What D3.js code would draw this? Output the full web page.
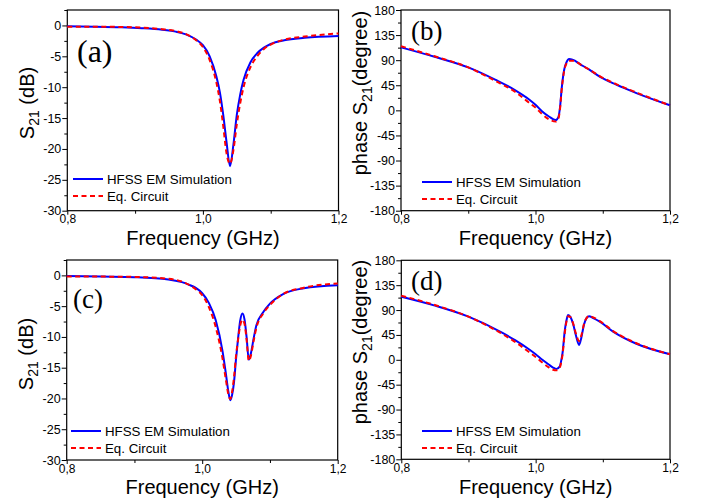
<!DOCTYPE html>
<html><head><meta charset="utf-8">
<script src="https://cdn.jsdelivr.net/npm/d3@7"></script>
<style>body{margin:0;background:#fff}svg{display:block}</style>
</head><body><svg id="c" width="706" height="504"></svg>
<script>
// ---------- data ----------
const freqA = [0.80,0.84,0.88,0.91,0.94,0.96,0.975,0.99,1.00,1.01,1.02,1.025,1.03,1.035,1.04,1.045,1.05,1.055,1.06,1.07,1.08,1.09,1.10,1.12,1.15,1.20];
const hfssA = [-0.15,-0.2,-0.3,-0.45,-0.7,-1.0,-1.45,-2.3,-3.2,-5.0,-8.3,-10.8,-14.5,-19.0,-22.8,-19.3,-14.5,-11.2,-8.8,-6.0,-4.5,-3.6,-3.0,-2.4,-2.0,-1.7];
const eqA   = [-0.2,-0.2,-0.25,-0.35,-0.6,-0.9,-1.4,-2.4,-3.5,-5.6,-9.3,-12.2,-16.3,-20.8,-22.4,-20.2,-16.0,-12.6,-10.0,-6.8,-5.0,-3.8,-3.1,-2.3,-1.8,-1.3];

const freqB = [0.80,0.85,0.90,0.94,0.97,0.99,1.00,1.01,1.02,1.03,1.034,1.0365,1.039,1.0425,1.046,1.05,1.055,1.06,1.07,1.08,1.096,1.12,1.15,1.20];
const hfssB = [113,96,77,55,36,20,10,-2,-11,-17.5,-12,6,40,72,86,92,91,88,80,73,60,46,31,9];
const eqB   = [115,97,77,53,33,14,5,-7,-16,-20,-15,3,38,70,84,89,89,87,80,73,61,47,32,9];

const freqC = [0.80,0.85,0.90,0.95,0.97,0.98,0.99,1.00,1.01,1.02,1.03,1.035,1.0385,1.0415,1.044,1.047,1.05,1.053,1.056,1.0595,1.0625,1.0655,1.0688,1.072,1.076,1.08,1.09,1.10,1.12,1.15,1.20];
const hfssC = [-0.1,-0.2,-0.3,-0.65,-1.1,-1.5,-2.0,-2.9,-4.5,-7.3,-12.3,-16.0,-18.8,-20.3,-19.5,-17.3,-13.5,-10.2,-7.4,-6.2,-7.2,-10.0,-13.7,-12.6,-10.2,-8.1,-6.0,-4.6,-3.0,-2.1,-1.6];
const eqC   = [-0.2,-0.2,-0.25,-0.55,-1.0,-1.5,-2.2,-3.2,-5.2,-8.4,-13.5,-17.0,-19.3,-20.1,-19.0,-16.5,-13.0,-10.4,-8.2,-7.2,-7.9,-10.4,-13.9,-13.0,-10.6,-8.5,-6.2,-4.8,-3.0,-2.0,-1.3];

const freqD = [0.80,0.85,0.90,0.95,0.97,0.99,1.00,1.01,1.02,1.026,1.031,1.036,1.038,1.040,1.0435,1.046,1.0483,1.052,1.056,1.060,1.0647,1.068,1.072,1.076,1.0796,1.085,1.0955,1.1153,1.15,1.20];
const hfssD = [114,98,78,49,35,19,10,0,-9,-14,-16.5,-12,-2,12,54,72,81,77,64,44,27,40,64,76,79,76,69,51,29,10];
const eqD   = [116,99,78,47,32,14,5,-5,-14,-18,-19,-14,-5,9,50,70,79,77,65,47,34,44,65,76,79,77,70,52,30,10];

const xTicks = [0.8, 1.0, 1.2];
const dbTicks = [0,-5,-10,-15,-20,-25,-30];
const phTicks = [180,135,90,45,0,-45,-90,-135,-180];
const seriesNames = ["HFSS EM Simulation","Eq. Circuit"];
const panelLabels = ["(a)","(b)","(c)","(d)"];

// ---------- drawing ----------
const svg = d3.select("#c");
const SANS = "'Liberation Sans', Arial, sans-serif";
const SERIF = "'Liberation Serif', 'Times New Roman', serif";
const BLUE = "#0000ff", RED = "#ff0000";

const panels = [
  {f:freqA, a:hfssA, b:eqA, box:[67.3,338.5,10,210.7], yDom:[-30,2.5], yTicks:dbTicks, yMinor:d3.range(-30,2.6,2.5), title:"dB",
   lab:[77,62,32], ytitle:[34,103], leg:[73,179], xtitle:245},
  {f:freqB, a:hfssB, b:eqB, box:[401,670,10,210.7], yDom:[-180,180], yTicks:phTicks, yMinor:d3.range(-180,181,22.5), title:"ph",
   lab:[411,40,27], ytitle:[367,93], leg:[422,182], xtitle:245},
  {f:freqC, a:hfssC, b:eqC, box:[66.7,337.7,260,460], yDom:[-30,2.5], yTicks:dbTicks, yMinor:d3.range(-30,2.6,2.5), title:"dB",
   lab:[73,308,27], ytitle:[33,354], leg:[71,431], xtitle:494},
  {f:freqD, a:hfssD, b:eqD, box:[401.3,670,260.3,459.3], yDom:[-180,180], yTicks:phTicks, yMinor:d3.range(-180,181,22.5), title:"ph",
   lab:[411,290,27], ytitle:[367,342], leg:[422,431], xtitle:494}
];

panels.forEach((p,i) => {
  const [x0,x1,y0,y1] = p.box;
  const x = d3.scaleLinear().domain([0.8,1.2]).range([x0,x1]);
  const y = d3.scaleLinear().domain(p.yDom).range([y1,y0]);
  const g = svg.append("g");

  // minor ticks
  g.append("g").attr("transform",`translate(0,${y1})`)
    .call(d3.axisBottom(x).tickValues([0.9,1.1]).tickSize(3).tickFormat(""))
    .call(a=>a.select(".domain").remove());
  g.append("g").attr("transform",`translate(${x0},0)`)
    .call(d3.axisLeft(y).tickValues(p.yMinor.filter(v=>p.yTicks.indexOf(v)<0)).tickSize(3).tickFormat(""))
    .call(a=>a.select(".domain").remove());
  // major
  const xa = g.append("g").attr("transform",`translate(0,${y1})`)
    .call(d3.axisBottom(x).tickValues(xTicks).tickSize(4).tickPadding(0)
      .tickFormat(d=>d3.format(".1f")(d).replace(".",",")));
  const ya = g.append("g").attr("transform",`translate(${x0},0)`)
    .call(d3.axisLeft(y).tickValues(p.yTicks).tickSize(5).tickPadding(1).tickFormat(d=>String(d)));
  [xa,ya].forEach(a=>{
    a.select(".domain").remove();
    a.selectAll("text").attr("font-family",SANS).attr("font-size",12.5).attr("fill","#000");
    a.selectAll("line").attr("stroke","#000");
  });
  xa.selectAll("text").attr("font-size",12);
  g.selectAll(".tick line").attr("stroke","#000").attr("stroke-width",1);

  // frame
  g.append("rect").attr("x",x0).attr("y",y0).attr("width",x1-x0).attr("height",y1-y0)
    .attr("fill","none").attr("stroke","#000").attr("stroke-width",1.2);

  // lines
  const line = d3.line().curve(d3.curveMonotoneX);
  const ptsA = p.f.map((f,k)=>[x(f),y(p.a[k])]);
  const ptsB = p.f.map((f,k)=>[x(f),y(p.b[k])]);
  g.append("path").attr("d",line(ptsA)).attr("fill","none").attr("stroke",BLUE).attr("stroke-width",2);
  g.append("path").attr("d",line(ptsB)).attr("fill","none").attr("stroke",RED).attr("stroke-width",2)
    .attr("stroke-dasharray","5,3.5");

  // legend
  const [lx,ly] = p.leg;
  g.append("line").attr("x1",lx).attr("x2",lx+30).attr("y1",ly).attr("y2",ly).attr("stroke",BLUE).attr("stroke-width",2);
  g.append("line").attr("x1",lx).attr("x2",lx+30).attr("y1",ly+17).attr("y2",ly+17).attr("stroke",RED).attr("stroke-width",2)
    .attr("stroke-dasharray","5,3.5");
  g.append("text").attr("x",lx+34).attr("y",ly+5).text(seriesNames[0])
    .attr("font-family",SANS).attr("font-size",13.3);
  g.append("text").attr("x",lx+34).attr("y",ly+22).text(seriesNames[1])
    .attr("font-family",SANS).attr("font-size",13.3);

  // panel label
  g.append("text").attr("x",p.lab[0]).attr("y",p.lab[1]).text(panelLabels[i])
    .attr("font-family",SERIF).attr("font-size",p.lab[2]);

  // x title
  g.append("text").attr("x",(x0+x1)/2).attr("y",p.xtitle).attr("text-anchor","middle")
    .attr("font-family",SANS).attr("font-size",20).text("Frequency (GHz)");

  // y title
  const yt = g.append("text").attr("transform",`translate(${p.ytitle[0]},${p.ytitle[1]}) rotate(-90)`)
    .attr("text-anchor","middle").attr("font-family",SANS).attr("font-size",20);
  if (p.title==="dB") {
    yt.append("tspan").text("S");
    yt.append("tspan").attr("font-size",14).attr("dy",5).text("21");
    yt.append("tspan").attr("dy",-5).text(" (dB)");
  } else {
    yt.append("tspan").text("phase S");
    yt.append("tspan").attr("font-size",14).attr("dy",5).text("21");
    yt.append("tspan").attr("dy",-5).text("(degree)");
  }
});
</script></body></html>
